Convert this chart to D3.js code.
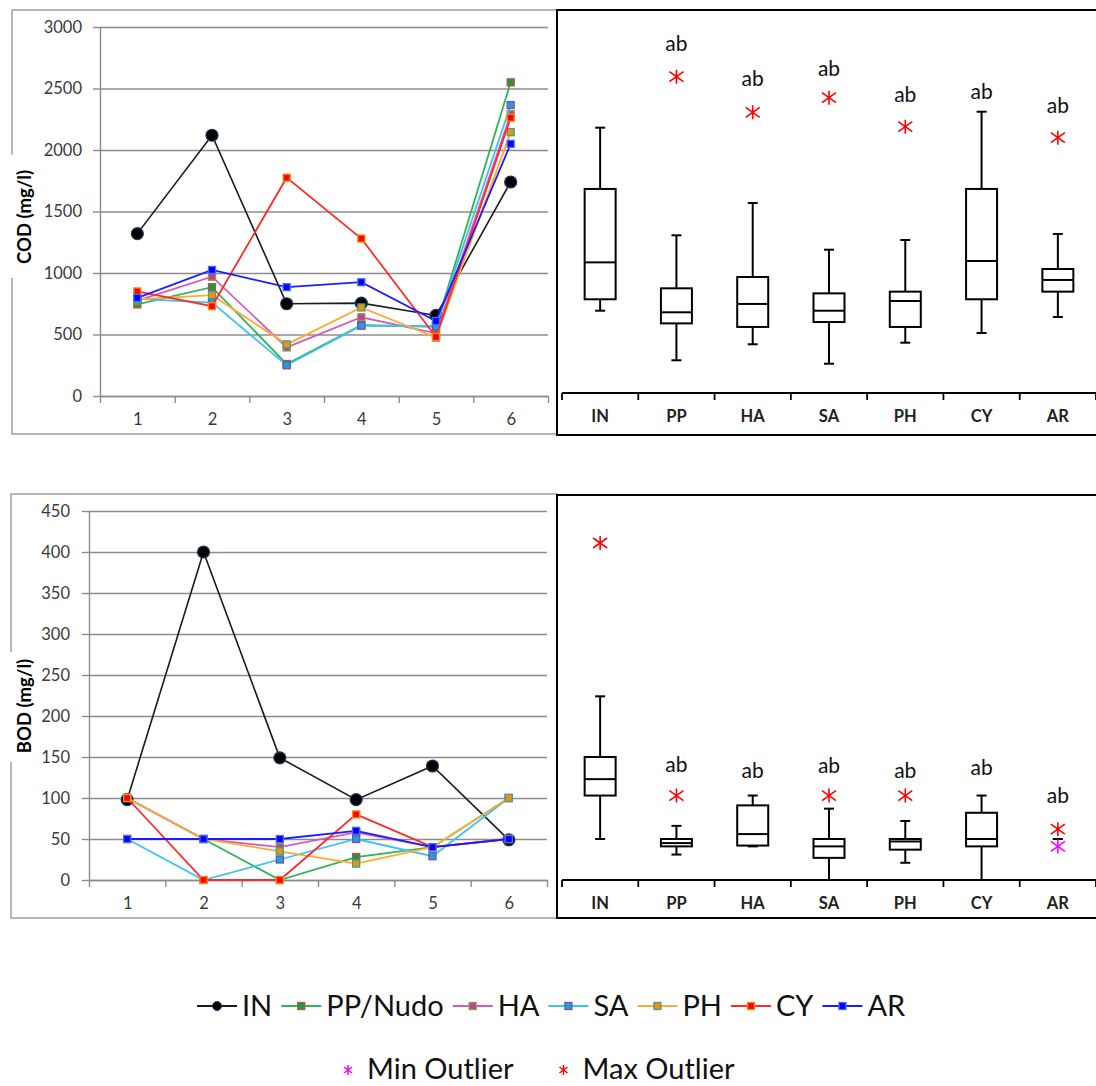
<!DOCTYPE html>
<html>
<head>
<meta charset="utf-8">
<script src="https://cdn.jsdelivr.net/npm/d3@7"></script>
<style>
  body { margin: 0; background: #fff; }
  svg { display: block; font-family: Lato, "Open Sans", sans-serif; }
</style>
</head>
<body>
<div id="chart"></div>
<script>
const W = 1096, H = 1086;

// line chart data (sample points 1..6)
const points = [1, 2, 3, 4, 5, 6];
const seriesNames = ["IN", "PP/Nudo", "HA", "SA", "PH", "CY", "AR"];

const codIN = [1320, 2120, 750, 755, 655, 1740];
const codPP = [745, 885, 260, 575, 565, 2550];
const codHA = [775, 970, 395, 640, 510, 2290];
const codSA = [790, 760, 250, 572, 565, 2365];
const codPH = [785, 820, 420, 720, 475, 2145];
const codCY = [850, 730, 1775, 1280, 480, 2262];
const codAR = [798, 1025, 885, 925, 610, 2050];

const bodIN = [98, 400, 149, 98, 139, 49];
const bodPP = [100, 50, 0, 28, 40, 100];
const bodHA = [100, 50, 40, 58, 40, 50];
const bodSA = [50, 0, 25, 50, 29, 100];
const bodPH = [100, 50, 35, 20, 40, 100];
const bodCY = [100, 0, 0, 80, 40, 50];
const bodAR = [50, 50, 50, 60, 40, 50];

const codTicks = [0, 500, 1000, 1500, 2000, 2500, 3000];
const bodTicks = [0, 50, 100, 150, 200, 250, 300, 350, 400, 450];

// box plot data
const boxCats = ["IN", "PP", "HA", "SA", "PH", "CY", "AR"];

const codMin = [669, 266, 396, 238, 409, 488, 618];
const codQ1 = [762, 566, 537, 577, 537, 762, 824];
const codMed = [1062, 656, 724, 669, 748, 1073, 919];
const codQ3 = [1659, 851, 943, 810, 824, 1659, 1008];
const codMax = [2157, 1282, 1545, 1165, 1244, 2287, 1293];
const codOutMax = [null, 2572, 2282, 2401, 2165, null, 2076];
const codOutMin = [null, null, null, null, null, null, null];
const codLetters = ["", "ab", "ab", "ab", "ab", "ab", "ab"];
const codLetterAt = [null, 2843, 2553, 2634, 2423, 2450, 2333];

const bodMin = [50, 31, 41, 0, 21, 0, 50];
const bodQ1 = [103, 41, 42, 27, 37, 41, null];
const bodMed = [123, 45, 56, 41, 47, 50, null];
const bodQ3 = [150, 50, 91, 50, 50, 82, null];
const bodMax = [224, 66, 103, 87, 72, 103, 50];
const bodOutMax = [411, 103, null, 103, 103, null, 62];
const bodOutMin = [null, null, null, null, null, null, 41];
const bodLetters = ["", "ab", "ab", "ab", "ab", "ab", "ab"];
const bodLetterAt = [null, 141, 133, 139, 133, 137, 103];

// colours: line, marker fill, marker border
const lineColors = ["#1a1a1a", "#2fb457", "#d45bb8", "#3cc4f0", "#ffaa33", "#ff2a2a", "#1c1cff"];
const markFill = ["#000000", "#1e9a3c", "#c0409a", "#1ea0e0", "#f39200", "#ff0000", "#0000ff"];
const markStroke = ["#1f3a5f", "#b5524a", "#8a9a3a", "#7a50a8", "#3aa0a0", "#ff8a00", "#4a6aff"];

const svg = d3.select("#chart").append("svg")
  .attr("width", W).attr("height", H);

svg.append("rect").attr("width", W).attr("height", H).attr("fill", "#fff");

const starPath = "M0,-7L0,7M-7,-5L7,5M-7,5L7,-5";
const starSmall = "M0,-5L0,5M-4,-3L4,3M-4,3L4,-3";

function lineChart(cfg) {
  const g = svg.append("g");

  // frame
  g.append("rect")
    .attr("x", cfg.frame[0]).attr("y", cfg.frame[1])
    .attr("width", cfg.frame[2]).attr("height", cfg.frame[3])
    .attr("fill", "none").attr("stroke", "#a0a0a0").attr("stroke-width", 1.5);

  const y = d3.scaleLinear().domain([0, d3.max(cfg.ticks)]).range([cfg.bottom, cfg.top]);
  const x = d3.scaleLinear().domain([0.5, 6.5]).range([cfg.left, cfg.right]);

  // gridlines
  g.append("g")
    .attr("transform", `translate(${cfg.left},0)`)
    .call(d3.axisRight(y).tickValues(cfg.ticks).tickSize(cfg.right - cfg.left).tickFormat(""))
    .call(a => a.select(".domain").remove())
    .call(a => a.selectAll("line").attr("stroke", "#8c8c8c").attr("stroke-width", 1.4));

  // y axis
  g.append("g")
    .attr("transform", `translate(${cfg.left},0)`)
    .call(d3.axisLeft(y).tickValues(cfg.ticks).tickSize(7).tickPadding(cfg.pad)
      .tickSizeOuter(0).tickFormat(d3.format("d")))
    .call(a => a.select(".domain").attr("stroke", "#8c8c8c").attr("stroke-width", 1.4))
    .call(a => a.selectAll("line").attr("stroke", "#8c8c8c").attr("stroke-width", 1.4))
    .call(a => a.selectAll("text").attr("font-size", 16.5).attr("fill", "#3a3a3a")
      .attr("font-family", "Lato, sans-serif"));

  // x axis: marks between categories
  g.append("g")
    .attr("transform", `translate(0,${cfg.bottom})`)
    .call(d3.axisBottom(x).tickValues([0.5, 1.5, 2.5, 3.5, 4.5, 5.5, 6.5]).tickSize(7).tickFormat("").tickSizeOuter(0))
    .call(a => a.select(".domain").attr("stroke", "#8c8c8c").attr("stroke-width", 1.4))
    .call(a => a.selectAll("line").attr("stroke", "#8c8c8c").attr("stroke-width", 1.4));

  g.append("g")
    .attr("transform", `translate(0,${cfg.bottom})`)
    .call(d3.axisBottom(x).tickValues(points).tickSize(0).tickPadding(17).tickFormat(d3.format("d")))
    .call(a => a.select(".domain").remove())
    .call(a => a.selectAll("text").attr("font-size", 16.5).attr("fill", "#3a3a3a")
      .attr("font-family", "Lato, sans-serif"));

  // y title with white backing over the frame
  g.append("rect")
    .attr("x", 4).attr("y", cfg.titleGap[0])
    .attr("width", 38).attr("height", cfg.titleGap[1] - cfg.titleGap[0])
    .attr("fill", "#fff");
  g.append("text")
    .attr("transform", `translate(31,${cfg.titleY}) rotate(-90)`)
    .attr("text-anchor", "middle")
    .attr("font-size", 18.5).attr("font-weight", "bold").attr("fill", "#000")
    .text(cfg.title);

  const line = d3.line().x((d, i) => x(points[i])).y(d => y(d));

  cfg.series.forEach((vals, s) => {
    const sg = g.append("g");
    sg.append("path")
      .datum(vals)
      .attr("d", line)
      .attr("fill", "none")
      .attr("stroke", lineColors[s])
      .attr("stroke-width", s === 0 ? 1.6 : 1.8);
    if (s === 0) {
      sg.selectAll("circle").data(vals).join("circle")
        .attr("cx", (d, i) => x(points[i])).attr("cy", d => y(d))
        .attr("r", 6)
        .attr("fill", markFill[s]).attr("stroke", markStroke[s]).attr("stroke-width", 1.2);
    } else {
      sg.selectAll("rect").data(vals).join("rect")
        .attr("x", (d, i) => x(points[i]) - 3.5).attr("y", d => y(d) - 3.5)
        .attr("width", 7).attr("height", 7)
        .attr("fill", markFill[s]).attr("stroke", markStroke[s]).attr("stroke-width", 1.3);
    }
  });
}

function boxChart(cfg) {
  const g = svg.append("g");

  g.append("rect")
    .attr("x", cfg.frame[0]).attr("y", cfg.frame[1])
    .attr("width", cfg.frame[2]).attr("height", cfg.frame[3])
    .attr("fill", "none").attr("stroke", "#000").attr("stroke-width", 2);

  const y = d3.scaleLinear().domain([0, cfg.maxVal]).range([cfg.bottom, cfg.top]);
  const x = d3.scaleBand().domain(boxCats).range([562, 1096]);
  const bw = x.bandwidth();

  // x axis with marks at band edges
  g.append("line")
    .attr("x1", 562).attr("x2", 1096).attr("y1", cfg.bottom).attr("y2", cfg.bottom)
    .attr("stroke", "#000").attr("stroke-width", 2);
  const edges = boxCats.map(c => x(c)).concat([x(boxCats[boxCats.length - 1]) + bw]);
  g.selectAll(".edge").data(edges).join("line")
    .attr("x1", d => d).attr("x2", d => d)
    .attr("y1", cfg.bottom).attr("y2", cfg.bottom + 7)
    .attr("stroke", "#000").attr("stroke-width", 1.8);

  g.append("g")
    .attr("transform", `translate(0,${cfg.bottom})`)
    .call(d3.axisBottom(x).tickSize(0).tickPadding(17))
    .call(a => a.select(".domain").remove())
    .call(a => a.selectAll("text").attr("font-size", 16.5).attr("font-weight", "bold")
      .attr("fill", "#222").attr("font-family", "Lato, sans-serif"));

  const bx = 31, cap = 5;
  boxCats.forEach((c, i) => {
    const cx = x(c) + bw / 2;
    const bg = g.append("g").attr("stroke", "#000").attr("stroke-width", 2).attr("fill", "none");
    const lo = cfg.q1[i] == null ? cfg.min[i] : cfg.q1[i];
    const hi = cfg.q3[i] == null ? cfg.max[i] : cfg.q3[i];
    bg.append("line").attr("x1", cx).attr("x2", cx).attr("y1", y(hi)).attr("y2", y(cfg.max[i]));
    bg.append("line").attr("x1", cx).attr("x2", cx).attr("y1", y(lo)).attr("y2", y(cfg.min[i]));
    bg.append("line").attr("x1", cx - cap).attr("x2", cx + cap).attr("y1", y(cfg.max[i])).attr("y2", y(cfg.max[i]));
    bg.append("line").attr("x1", cx - cap).attr("x2", cx + cap).attr("y1", y(cfg.min[i])).attr("y2", y(cfg.min[i]));
    if (cfg.q1[i] != null) {
      bg.append("rect")
        .attr("x", cx - bx / 2).attr("width", bx)
        .attr("y", y(cfg.q3[i])).attr("height", y(cfg.q1[i]) - y(cfg.q3[i]));
      bg.append("line").attr("x1", cx - bx / 2).attr("x2", cx + bx / 2)
        .attr("y1", y(cfg.med[i])).attr("y2", y(cfg.med[i]));
    }
    if (cfg.outMin[i] != null) {
      g.append("path").attr("d", starPath)
        .attr("transform", `translate(${cx},${y(cfg.outMin[i])})`)
        .attr("stroke", "#ff00ff").attr("stroke-width", 1.6).attr("fill", "none");
    }
    if (cfg.outMax[i] != null) {
      g.append("path").attr("d", starPath)
        .attr("transform", `translate(${cx},${y(cfg.outMax[i])})`)
        .attr("stroke", "#ff0000").attr("stroke-width", 1.6).attr("fill", "none");
    }
    if (cfg.letters[i]) {
      g.append("text")
        .attr("x", cx).attr("y", y(cfg.letterAt[i]))
        .attr("dy", "0.35em")
        .attr("text-anchor", "middle")
        .attr("font-size", 21).attr("fill", "#111")
        .text(cfg.letters[i]);
    }
  });
}

lineChart({
  frame: [12, 10, 545, 424], left: 100, right: 548, top: 27, bottom: 396,
  ticks: codTicks, pad: 11, title: "COD (mg/l)", titleY: 217, titleGap: [155, 278],
  series: [codIN, codPP, codHA, codSA, codPH, codCY, codAR]
});

lineChart({
  frame: [11, 494, 546, 424], left: 89, right: 547, top: 511, bottom: 880,
  ticks: bodTicks, pad: 12, title: "BOD (mg/l)", titleY: 706, titleGap: [652, 762],
  series: [bodIN, bodPP, bodHA, bodSA, bodPH, bodCY, bodAR]
});

boxChart({
  frame: [557, 10, 545, 425], top: 24, bottom: 393, maxVal: 3000,
  min: codMin, q1: codQ1, med: codMed, q3: codQ3, max: codMax,
  outMax: codOutMax, outMin: codOutMin, letters: codLetters, letterAt: codLetterAt
});

boxChart({
  frame: [557, 495, 545, 423], top: 511, bottom: 880, maxVal: 450,
  min: bodMin, q1: bodQ1, med: bodMed, q3: bodQ3, max: bodMax,
  outMax: bodOutMax, outMin: bodOutMin, letters: bodLetters, letterAt: bodLetterAt
});

// legend row 1
const leg = svg.append("g").attr("font-size", 29).attr("fill", "#111");
let lx = 197;
seriesNames.forEach((name, s) => {
  const ly = 1006;
  leg.append("line").attr("x1", lx).attr("x2", lx + 40).attr("y1", ly).attr("y2", ly)
    .attr("stroke", lineColors[s]).attr("stroke-width", 2);
  if (s === 0) {
    leg.append("circle").attr("cx", lx + 20).attr("cy", ly).attr("r", 4.5)
      .attr("fill", markFill[s]).attr("stroke", markStroke[s]);
  } else {
    leg.append("rect").attr("x", lx + 16.5).attr("y", ly - 3.5).attr("width", 7).attr("height", 7)
      .attr("fill", markFill[s]).attr("stroke", markStroke[s]).attr("stroke-width", 1.3);
  }
  const t = leg.append("text").attr("x", lx + 45).attr("y", 1016).text(name);
  lx += 45 + t.node().getComputedTextLength() + 9;
});

// legend row 2
const outNames = ["Min Outlier", "Max Outlier"];
const outColors = ["#ff00ff", "#ff0000"];
let ox = 348;
outNames.forEach((name, i) => {
  leg.append("path").attr("d", starSmall)
    .attr("transform", `translate(${ox},1070)`)
    .attr("stroke", outColors[i]).attr("stroke-width", 1.5).attr("fill", "none");
  const t = leg.append("text").attr("x", ox + 19).attr("y", 1079).text(name);
  ox += 19 + t.node().getComputedTextLength() + 50;
});
</script>
</body>
</html>
